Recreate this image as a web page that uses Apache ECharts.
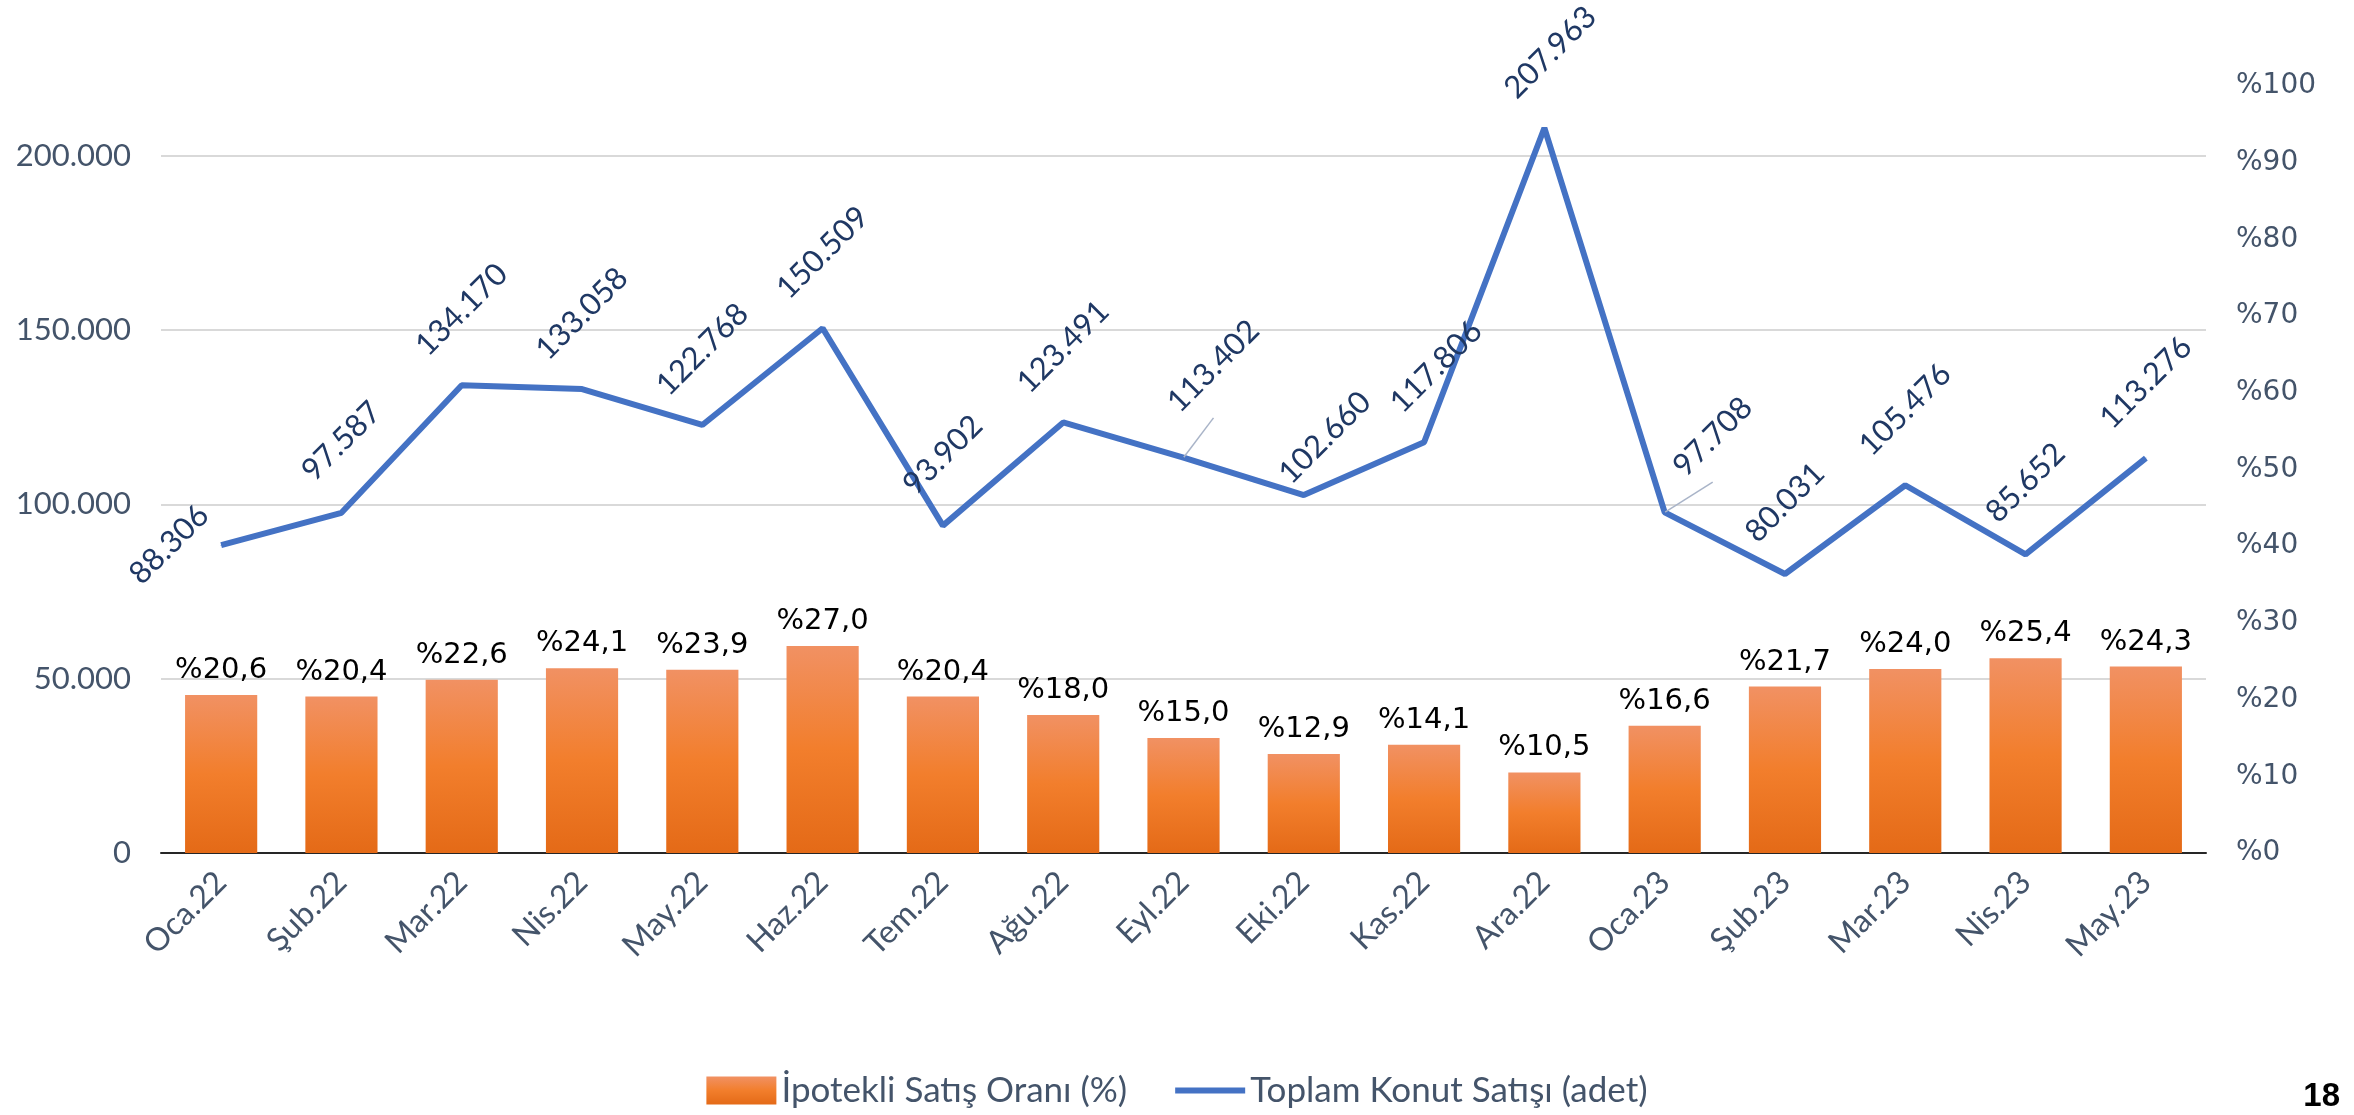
<!DOCTYPE html>
<html>
<head>
<meta charset="utf-8">
<script src="https://cdn.jsdelivr.net/npm/echarts@6/dist/echarts.min.js"></script>
<style>
  html, body { margin: 0; padding: 0; background: #fff; }
  #chart { width: 2354px; height: 1115px; }
</style>
</head>
<body>
<div id="chart"></div>
<script>
var categories = ['Oca.22', 'Şub.22', 'Mar.22', 'Nis.22', 'May.22', 'Haz.22', 'Tem.22', 'Ağu.22', 'Eyl.22',
  'Eki.22', 'Kas.22', 'Ara.22', 'Oca.23', 'Şub.23', 'Mar.23', 'Nis.23', 'May.23']
// ipotekli satis orani (%)
var mortgageShare = [20.6, 20.4, 22.6, 24.1, 23.9, 27.0, 20.4, 18.0, 15.0, 12.9, 14.1, 10.5, 16.6, 21.7, 24.0, 25.4, 24.3]
// toplam konut satisi (adet)
var totalSales = [88306, 97587, 134170, 133058, 122768, 150509, 93902, 123491, 113402, 102660, 117806, 207963,
  97708, 80031, 105476, 85652, 113276]

// etiket kaydirmalari (ekran px)
var labelDx = [-52, 0, 0, 0, 0, 0, 0, 0, 30, 21, 12, 6, 48, 0, 0, 0, 0]
var labelDy = [75, 4, 0, 0, 0, 0, 5, 0, -16, 18, 0, 0, 0, 4, 0, 4, 0]
var leaderIdx = [8, 12]
var labelRotate = 45

var textColor = '#44546A'

function fmtThousands(v) {
  return String(Math.round(v)).replace(/\B(?=(\d{3})+(?!\d))/g, '.')
}
function fmtPct(v) {
  return '%' + v.toFixed(1).replace('.', ',')
}

var lineData = totalSales.map(function (v, i) {
  var item = { value: v }
  if (leaderIdx.indexOf(i) >= 0) {
    item.labelLine = { show: true, lineStyle: { color: '#A9B4C8', width: 1.5 } }
  }
  return item
})

var chart = echarts.init(document.getElementById('chart'))

var option = {
  backgroundColor: '#fff',
  animation: false,
  grid: {
    left: 161,
    right: 148,
    top: 86,
    bottom: 262,
    containLabel: false,
    outerBoundsMode: 'none'
  },
  legend: {
    bottom: 2,
    left: 'center',
    itemGap: 45,
    itemWidth: 70,
    itemHeight: 28,
    textStyle: { color: textColor, fontSize: 35, fontFamily: 'Lato' },
    data: [
      { name: 'İpotekli Satış Oranı (%)', icon: 'rect' },
      { name: 'Toplam Konut Satışı (adet)', itemStyle: { opacity: 0 }, lineStyle: { width: 6, color: '#4472C4' } }
    ]
  },
  xAxis: {
    type: 'category',
    data: categories,
    axisLine: { lineStyle: { color: '#262626', width: 2 } },
    axisTick: { show: false },
    axisLabel: {
      rotate: 45,
      color: textColor,
      fontSize: 32,
      fontFamily: 'Lato',
      margin: 24,
      interval: 0
    }
  },
  yAxis: [{
    type: 'value',
    min: 0,
    max: 220000,
    interval: 50000,
    axisLine: { show: false },
    axisTick: { show: false },
    splitLine: {
      showMaxLine: false,
      lineStyle: { color: ['#D9D9D9', '#D9D9D9', '#D9D9D9', '#D9D9D9', '#D9D9D9', 'rgba(0,0,0,0)'], width: 2 }
    },
    axisLabel: {
      color: textColor,
      fontSize: 31,
      fontFamily: 'Lato',
      margin: 30,
      formatter: function (v) {
        return v % 50000 === 0 ? fmtThousands(v) : ''
      }
    }
  }, {
    type: 'value',
    min: 0,
    max: 100,
    interval: 10,
    position: 'right',
    axisLine: { show: false },
    axisTick: { show: false },
    splitLine: { show: false },
    axisLabel: {
      color: textColor,
      fontSize: 28,
      fontFamily: 'DejaVu Sans',
      margin: 30,
      formatter: function (v) { return '%' + v }
    }
  }],
  series: [{
    name: 'İpotekli Satış Oranı (%)',
    type: 'bar',
    yAxisIndex: 1,
    barWidth: '60%',
    data: mortgageShare,
    itemStyle: {
      color: new echarts.graphic.LinearGradient(0, 0, 0, 1, [
        { offset: 0, color: '#F19163' },
        { offset: 0.5, color: '#F27E2C' },
        { offset: 1, color: '#E46A17' }
      ])
    },
    label: {
      show: true,
      position: 'top',
      distance: 10,
      color: '#000',
      fontSize: 29,
      fontFamily: 'DejaVu Sans',
      formatter: function (p) { return fmtPct(p.value) }
    }
  }, {
    name: 'Toplam Konut Satışı (adet)',
    type: 'line',
    yAxisIndex: 0,
    z: 5,
    data: lineData,
    symbol: 'circle',
    symbolSize: 1,
    showSymbol: true,
    itemStyle: { color: '#4472C4' },
    lineStyle: { color: '#4472C4', width: 6 },
    label: {
      show: true,
      position: 'top',
      distance: 75,
      rotate: labelRotate,
      align: 'center',
      verticalAlign: 'middle',
      color: '#1F3864',
      fontSize: 31,
      fontFamily: 'Lato',
      formatter: function (p) { return fmtThousands(p.value) }
    },
    // dx/dy etiketle birlikte donuyor, ekran kaydirmasina cevir
    labelLayout: function (p) {
      var a = labelRotate * Math.PI / 180
      var c = Math.cos(a), s = Math.sin(a)
      var dx = labelDx[p.dataIndex], dy = labelDy[p.dataIndex]
      return { dx: c * dx - s * dy, dy: s * dx + c * dy }
    }
  }],
  graphic: [{
    type: 'text',
    right: 14,
    bottom: 2,
    style: {
      text: '18',
      fill: '#000',
      font: 'bold 33px "Liberation Sans"'
    }
  }]
}

chart.setOption(option)
</script>
</body>
</html>
